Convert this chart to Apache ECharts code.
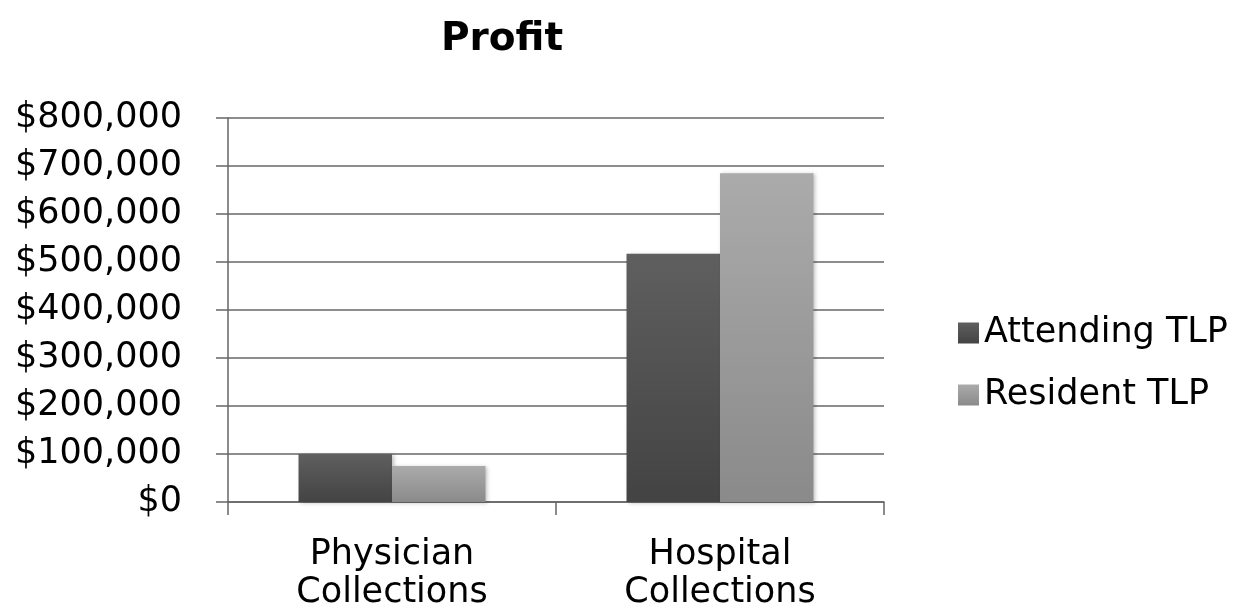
<!DOCTYPE html>
<html>
<head>
<meta charset="utf-8">
<script src="https://cdn.jsdelivr.net/npm/echarts@6/dist/echarts.min.js"></script>
<style>
  html, body { margin: 0; padding: 0; background: #ffffff; }
  #chart { width: 1250px; height: 612px; }
</style>
</head>
<body>
<div id="chart"></div>
<script>
const titleText = 'Profit';
const categories = ['Physician\nCollections', 'Hospital\nCollections'];
const seriesNames = ['Attending TLP', 'Resident TLP'];
const attendingValues = [100000, 517000];
const residentValues = [75000, 685000];
const yMin = 0;
const yMax = 800000;
const yStep = 100000;

const FONT = 'DejaVu Sans';

function grad(top, bottom) {
  return new echarts.graphic.LinearGradient(0, 0, 0, 1, [
    { offset: 0, color: top },
    { offset: 1, color: bottom }
  ]);
}

const chart = echarts.init(document.getElementById('chart'), null, { renderer: 'canvas' });

chart.setOption({
  backgroundColor: '#ffffff',
  animation: false,
  title: {
    text: titleText,
    left: 436,
    top: 15,
    textStyle: { fontFamily: FONT, fontSize: 39, fontWeight: 'bold', color: '#000' }
  },
  legend: {
    orient: 'vertical',
    left: 953,
    top: 308,
    itemWidth: 21,
    itemHeight: 21,
    itemGap: 22,
    icon: 'rect',
    textStyle: { fontFamily: FONT, fontSize: 35, color: '#000', lineHeight: 40, padding: [0, 0, 0, 0] },
    data: seriesNames
  },
  grid: {
    left: 228,
    right: 366,
    top: 118,
    bottom: 110,
    containLabel: false
  },
  xAxis: {
    type: 'category',
    data: categories,
    boundaryGap: true,
    axisLine: { show: true, lineStyle: { color: '#666666', width: 1.5 } },
    axisTick: { show: true, length: 13, lineStyle: { color: '#666666', width: 1.5 } },
    axisLabel: {
      fontFamily: FONT, fontSize: 35, color: '#000', lineHeight: 38, margin: 34
    }
  },
  yAxis: {
    type: 'value',
    min: yMin,
    max: yMax,
    interval: yStep,
    axisLine: { show: true, lineStyle: { color: '#666666', width: 1.5 } },
    axisTick: { show: true, length: 12, lineStyle: { color: '#666666', width: 1.5 } },
    splitLine: { show: true, lineStyle: { color: '#666666', width: 1.5 } },
    axisLabel: {
      fontFamily: FONT, fontSize: 35, color: '#000', margin: 46,
      formatter: function (v) { return '$' + v.toLocaleString('en-US'); }
    }
  },
  series: [
    {
      name: seriesNames[0],
      type: 'bar',
      data: attendingValues,
      barGap: '0%',
      barCategoryGap: '43%',
      itemStyle: {
        color: grad('#5f5f5f', '#434343'),
        shadowColor: 'rgba(0,0,0,0.25)',
        shadowBlur: 4,
        shadowOffsetX: 2,
        shadowOffsetY: 1
      }
    },
    {
      name: seriesNames[1],
      type: 'bar',
      data: residentValues,
      barGap: '0%',
      barCategoryGap: '43%',
      itemStyle: {
        color: grad('#ababab', '#8a8a8a'),
        shadowColor: 'rgba(0,0,0,0.25)',
        shadowBlur: 4,
        shadowOffsetX: 2,
        shadowOffsetY: 1
      }
    }
  ]
});
</script>
</body>
</html>
